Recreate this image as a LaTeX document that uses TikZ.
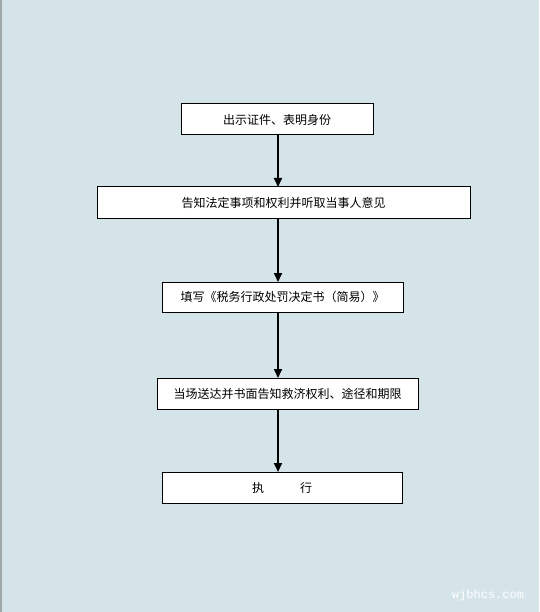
\documentclass[tikz,border=0pt]{standalone}
\usepackage{fontspec}
\setmainfont{Noto Sans CJK SC}
\newfontfamily\wmfont{Liberation Mono}
\usetikzlibrary{arrows.meta}
\definecolor{bgc}{RGB}{213,228,233}
\definecolor{edgec}{RGB}{160,168,170}
\tikzset{
  stepbox/.style={draw=black, line width=1pt, fill=white, inner sep=0pt, outer sep=0pt,
    font=\fontsize{12}{14}\selectfont, anchor=center},
  arr/.style={line width=1.8pt, -{Triangle[width=8pt,length=9pt]}, shorten >=0pt}
}
\begin{document}
\begin{tikzpicture}[x=1pt,y=-1pt]
\fill[bgc] (0,0) rectangle (539,612);
\useasboundingbox (0,0) rectangle (539,612);
\fill[edgec] (0,0) rectangle (1.5,612);
\node[stepbox, minimum width=192pt, minimum height=31pt] (b1) at (277,119.5) {出示证件、表明身份};
\node[stepbox, minimum width=373pt, minimum height=31pt] (b2) at (283.5,202.5) {告知法定事项和权利并听取当事人意见};
\node[stepbox, minimum width=241pt, minimum height=30pt] (b3) at (282.5,297) {填写《税务行政处罚决定书（简易）》};
\node[stepbox, minimum width=261pt, minimum height=31pt] (b4) at (287.5,393.5) {当场送达并书面告知救济权利、途径和期限};
\node[stepbox, minimum width=240pt, minimum height=31pt] (b5) at (282,487.5) {执\hspace{3em}行};
\coordinate (ax) at (278,0);
\draw[arr] (b1.south -| ax) -- (b2.north -| ax);
\draw[arr] (b2.south -| ax) -- (b3.north -| ax);
\draw[arr] (b3.south -| ax) -- (b4.north -| ax);
\draw[arr] (b4.south -| ax) -- (b5.north -| ax);
\node[text=white, font=\wmfont\fontsize{12}{12}\selectfont, anchor=center] (wm) at (488,595) {wjbhcs.com};
\end{tikzpicture}
\end{document}
